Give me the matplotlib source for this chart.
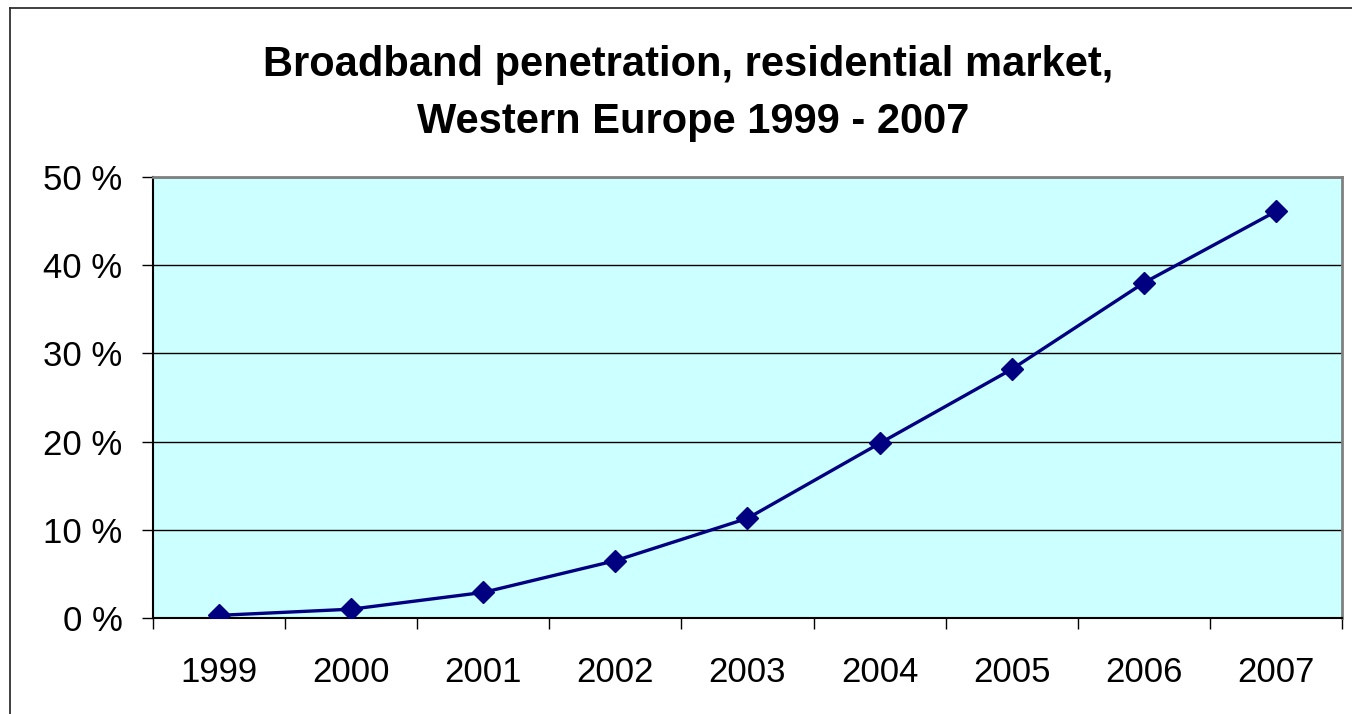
import numpy as np
import matplotlib
matplotlib.use("Agg")
import matplotlib.pyplot as plt
from matplotlib.lines import Line2D

plt.rcParams['font.family'] = ['Liberation Sans', 'DejaVu Sans']

years = ['1999', '2000', '2001', '2002', '2003', '2004', '2005', '2006', '2007']
penetration = [0.3, 1.0, 2.9, 6.5, 11.3, 19.8, 28.2, 38.0, 46.1]
y_ticks = [0, 10, 20, 30, 40, 50]

W, H = 1352, 714
fig = plt.figure(figsize=(W / 100, H / 100), dpi=100)
fig.patch.set_facecolor('white')

# plot area in pixel coordinates
left, right, top, bottom = 153, 1342, 177, 618
ax = fig.add_axes([left / W, 1 - bottom / H, (right - left) / W, (bottom - top) / H])
ax.set_facecolor('#CCFFFF')

x = np.arange(len(years))
ax.plot(x, penetration, color='#000080', lw=2.4, marker='D', ms=11,
        markerfacecolor='#000080', markeredgecolor='#000080', zorder=3)

ax.set_xlim(-0.5, len(years) - 0.5)
ax.set_ylim(0, 50)

ax.set_yticks(y_ticks)
ax.set_yticklabels([f'{v} %' for v in y_ticks])
ax.yaxis.grid(True, color='black', lw=1)
ax.set_axisbelow(True)

# category labels centred, ticks at the boundaries
ax.set_xticks(x)
ax.set_xticklabels(years)
ax.set_xticks(np.arange(-0.5, len(years)), minor=True)
ax.tick_params(axis='x', which='major', length=0, pad=27, labelsize=25)
ax.tick_params(axis='x', which='minor', length=8, width=1, direction='out')
ax.tick_params(axis='y', length=8, width=1, direction='out', pad=14, labelsize=25)

ax.spines['left'].set_color('black')
ax.spines['bottom'].set_color('black')
ax.spines['left'].set_linewidth(1.5)
ax.spines['bottom'].set_linewidth(1.5)
ax.spines['top'].set_color('#808080')
ax.spines['right'].set_color('#808080')
ax.spines['top'].set_linewidth(2)
ax.spines['right'].set_linewidth(2)

fig.text(688 / W, 1 - 65 / H, 'Broadband penetration, residential market,',
         ha='center', va='center', fontsize=30, fontweight='bold')
fig.text(693 / W, 1 - 122 / H, 'Western Europe 1999 - 2007',
         ha='center', va='center', fontsize=30, fontweight='bold')

# chart frame (runs off the right and bottom edges)
fig.add_artist(Line2D([10 / W, 10 / W], [0, 1 - 8 / H], color='#303030', lw=1.3))
fig.add_artist(Line2D([10 / W, 1], [1 - 8 / H, 1 - 8 / H], color='#303030', lw=1.3))

fig.savefig('out.png', dpi=100)
